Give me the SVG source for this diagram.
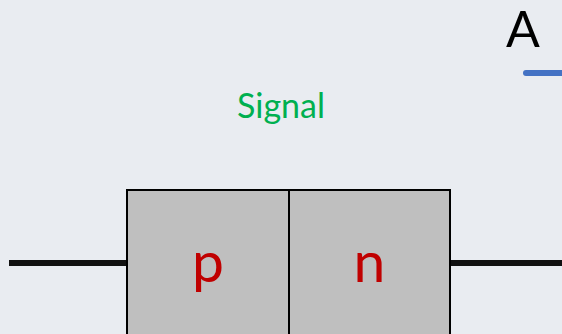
<svg xmlns="http://www.w3.org/2000/svg" width="562" height="334" viewBox="0 0 562 334">
<style>
.bg{fill:#e9ecf1}
.box{fill:#bfbfbf;stroke:#000;stroke-width:2}
.wire{stroke:#111;stroke-width:6;fill:none}
.lbl{font-family:Lato,"Open Sans",sans-serif;text-anchor:middle}
.pn{fill:#c00000;font-size:57px}
</style>
<rect class="bg" x="0" y="0" width="562" height="334"/>
<g id="connectors">
<line class="wire" x1="9" y1="263" x2="127" y2="263"/>
<line class="wire" x1="450" y1="263" x2="562" y2="263"/>
<line x1="526" y1="73" x2="566" y2="73" stroke="#4472c4" stroke-width="6" stroke-linecap="round"/>
</g>
<g id="label-A"><text class="lbl" x="523" y="47" font-size="50" fill="#000">A</text></g>
<g id="label-signal"><text class="lbl" x="281" y="118" font-size="34" fill="#00b050">Signal</text></g>
<g id="p-region">
<rect class="box" x="127" y="190" width="162" height="150"/>
<text class="lbl pn" x="208" y="282">p</text>
</g>
<g id="n-region">
<rect class="box" x="289" y="190" width="161" height="150"/>
<text class="lbl pn" x="369.5" y="282">n</text>
</g>
</svg>
